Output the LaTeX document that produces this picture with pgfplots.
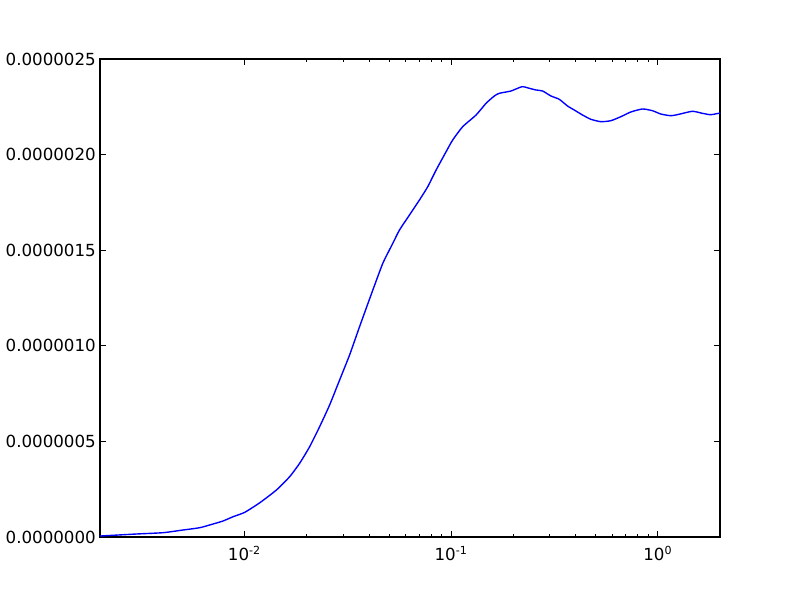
\documentclass[border=0pt]{standalone}
\usepackage{pgfplots}
\pgfplotsset{compat=1.18}
\usepackage{fontspec}
\setmainfont{DejaVu Sans}

\begin{document}
\fontsize{12}{14}\selectfont
\begin{tikzpicture}
\path[use as bounding box] (-72pt,-43.2pt) rectangle (504pt,386.64pt);
\begin{axis}[
    at={(0,0)}, anchor=south west,
    scale only axis,
    width=446.4pt, height=344.16pt,
    xmode=log,
    xmin=0.002, xmax=2,
    ymin=0, ymax=2.5e-6,
    xtick={0.01,0.1,1},
    xticklabels={10\textsuperscript{-2},10\textsuperscript{-1},10\textsuperscript{0}},
    ytick={0,0.5e-6,1e-6,1.5e-6,2e-6,2.5e-6},
    yticklabels={0.0000000,0.0000005,0.0000010,0.0000015,0.0000020,0.0000025},
    scaled y ticks=false,
    tick align=inside,
    major tick length=4pt,
    minor tick length=2pt,
    every tick/.style={black, line width=0.5pt},
    axis line style={line width=1pt},
    ticklabel style={font=\fontsize{12}{14}\selectfont},
    xticklabel style={yshift=-2.5pt},
    yticklabel style={xshift=1.2pt},
]
\addplot[color=blue, line width=1pt, smooth, tension=0.35] coordinates {
(0.00200,0.005e-6)(0.00301,0.0157e-6)(0.00404,0.0225e-6)(0.00505,0.0366e-6)
(0.00608,0.0486e-6)(0.00705,0.068e-6)(0.00788,0.0837e-6)(0.00881,0.106e-6)
(0.01003,0.129e-6)(0.01186,0.179e-6)(0.01428,0.2458e-6)(0.01655,0.3154e-6)
(0.01850,0.3855e-6)(0.02068,0.4723e-6)(0.02311,0.5769e-6)(0.02583,0.6904e-6)
(0.02887,0.8211e-6)(0.03227,0.9519e-6)(0.03606,1.0999e-6)(0.04181,1.2918e-6)
(0.04673,1.4315e-6)(0.05223,1.5361e-6)(0.05627,1.6056e-6)(0.06289,1.6841e-6)
(0.07028,1.7625e-6)(0.07709,1.8321e-6)(0.08463,1.9194e-6)(0.09458,2.0152e-6)
(0.10179,2.0764e-6)(0.11377,2.1459e-6)(0.13206,2.2071e-6)(0.14761,2.2683e-6)
(0.16188,2.3065e-6)(0.17119,2.3206e-6)(0.19497,2.3326e-6)(0.22028,2.3551e-6)
(0.23894,2.3467e-6)(0.25738,2.3379e-6)(0.27706,2.3326e-6)(0.30410,2.3065e-6)
(0.33369,2.2892e-6)(0.36591,2.2542e-6)(0.40164,2.2280e-6)(0.43226,2.2071e-6)
(0.47453,2.1846e-6)(0.53039,2.1721e-6)(0.59284,2.1773e-6)(0.66268,2.1982e-6)
(0.74066,2.2228e-6)(0.84268,2.2385e-6)(0.94172,2.2296e-6)(1.03395,2.2123e-6)
(1.15560,2.2034e-6)(1.26690,2.2108e-6)(1.46960,2.2264e-6)(1.64260,2.2160e-6)
(1.80300,2.2086e-6)(2.00000,2.2175e-6)
};
\end{axis}
\end{tikzpicture}
\end{document}
